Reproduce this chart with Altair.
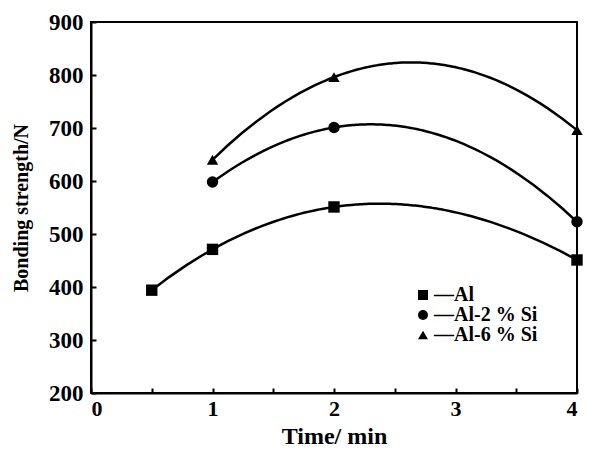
import altair as alt
import pandas as pd

series_names = ["Al", "Al-2 % Si", "Al-6 % Si"]
time_al = [0.5, 1, 2, 4]
strength_al = [394, 471, 551, 451]
time_si = [1, 2, 4]
strength_si2 = [598, 701, 523]
strength_si6 = [640, 796, 696]

x_ticks = [0, 1, 2, 3, 4]
x_minor = [0, 0.5, 1, 1.5, 2, 2.5, 3, 3.5, 4]
y_ticks = [200, 300, 400, 500, 600, 700, 800, 900]

rows = []
for t, v in zip(time_al, strength_al):
    rows.append({"time": t, "strength": v, "series": series_names[0]})
for t, v in zip(time_si, strength_si2):
    rows.append({"time": t, "strength": v, "series": series_names[1]})
for t, v in zip(time_si, strength_si6):
    rows.append({"time": t, "strength": v, "series": series_names[2]})
df = pd.DataFrame(rows)

W, H = 486, 371
FONT = "Liberation Serif"

x_scale = alt.Scale(domain=[0, 4], nice=False, zero=False)
y_scale = alt.Scale(domain=[200, 900], nice=False, zero=False)

base = alt.Chart(df)

points = base.mark_point(filled=True, opacity=1, size=130, color="black").encode(
    x=alt.X("time:Q", scale=x_scale,
            axis=alt.Axis(title="Time/ min", values=x_ticks, ticks=False, grid=False,
                          labelFontSize=22, titleFontSize=24, labelPadding=5,
                          titlePadding=5, domainWidth=2, domainColor="black",
                          labelColor="black", titleColor="black")),
    y=alt.Y("strength:Q", scale=y_scale,
            axis=alt.Axis(title="Bonding strength/N", values=y_ticks, ticks=False, grid=False,
                          labelFontSize=23, titleFontSize=20, labelPadding=8,
                          titlePadding=17, domainWidth=2, domainColor="black",
                          labelColor="black", titleColor="black")),
    shape=alt.Shape("series:N",
                    scale=alt.Scale(domain=series_names, range=["square", "circle", "triangle-up"]),
                    legend=alt.Legend(title=None, orient="none", legendX=322, legendY=263,
                                      labelExpr="'—' + datum.label",
                                      labelFont=FONT, labelFontSize=20, labelFontWeight="bold",
                                      labelColor="black", symbolFillColor="black",
                                      symbolStrokeColor="black", symbolSize=100,
                                      rowPadding=0, labelOffset=1)),
)

line_al = base.transform_filter(
    alt.datum.series == series_names[0]
).transform_regression(
    "time", "strength", method="poly", order=3
).mark_line(color="black", strokeWidth=2.5).encode(
    x=alt.X("time:Q", scale=x_scale, axis=None),
    y=alt.Y("strength:Q", scale=y_scale, axis=None),
)

line_si = base.transform_filter(
    alt.datum.series != series_names[0]
).transform_regression(
    "time", "strength", method="poly", order=2, groupby=["series"]
).mark_line(color="black", strokeWidth=2.5).encode(
    x=alt.X("time:Q", scale=x_scale,
            axis=alt.Axis(orient="top", offset=-H, values=x_minor, labels=False, domain=False,
                          grid=False, title=None, ticks=True, tickSize=5, tickWidth=2,
                          tickColor="black")),
    y=alt.Y("strength:Q", scale=y_scale,
            axis=alt.Axis(orient="right", offset=-W, values=y_ticks, labels=False, domain=False,
                          grid=False, title=None, ticks=True, tickSize=5, tickWidth=2,
                          tickColor="black")),
    detail="series:N",
)

chart = alt.layer(points, line_al, line_si).resolve_axis(
    x="independent", y="independent"
).properties(
    width=W, height=H,
    autosize=alt.AutoSizeParams(type="none"),
    padding={"left": 91, "top": 22, "right": 12, "bottom": 60},
    background="white",
).configure_view(
    stroke="black", strokeWidth=2
).configure_axis(
    labelFont=FONT, titleFont=FONT, labelFontWeight="bold", titleFontWeight="bold",
    labelColor="black", titleColor="black",
)

chart.save("out.html", embed_options={"renderer": "svg", "actions": False})
